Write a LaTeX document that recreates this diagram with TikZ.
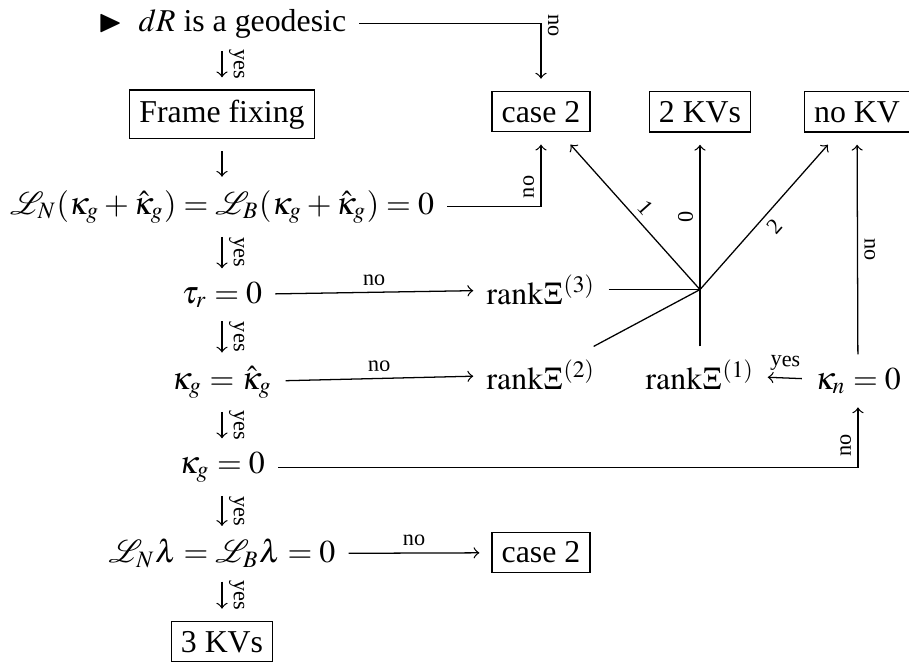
\documentclass[tikz,border=0pt]{standalone}
\usepackage{amssymb}
\usepackage{mathptmx}
\usepackage{mathrsfs}
\usepackage[no-math]{fontspec}
\setmainfont{Liberation Serif}

\tikzset{
  txt/.style={inner sep=4pt, anchor=base},
  kvbox/.style={draw, inner sep=3pt, outer sep=4pt, anchor=base},
  lbl/.style={font=\scriptsize, sloped, inner sep=2pt},
}

\begin{document}
\begin{tikzpicture}[x=0.3142pt, y=-0.3142pt]
\useasboundingbox (0,0) rectangle (909,662);

% main column
\node[txt] (geo) at (222,31) {$\blacktriangleright$\hspace{5pt}$dR$ is a geodesic};
\node[kvbox] (ff) at (222,122) {Frame fixing};
\node[txt] (LN) at (222,214) {$\mathscr{L}_N(\kappa_g+\hat\kappa_g)=\mathscr{L}_B(\kappa_g+\hat\kappa_g)=0$};
\node[txt] (tau) at (222,303) {$\tau_r=0$};
\node[txt] (kk) at (222,389) {$\kappa_g=\hat\kappa_g$};
\node[txt] (kg0) at (222,473) {$\kappa_g=0$};
\node[txt] (LNl) at (222,563) {$\mathscr{L}_N\lambda=\mathscr{L}_B\lambda=0$};
\node[kvbox] (kv3) at (222,652) {3 KVs};

% outcomes and ranks
\node[kvbox] (c2a) at (541,122) {case 2};
\node[kvbox] (kv2) at (700,122) {2 KVs};
\node[kvbox] (nokv) at (857,122) {no KV};
\node[txt] (r3) at (541,304) {$\mathrm{rank}\Xi^{(3)}$};
\node[txt] (r2) at (541,389) {$\mathrm{rank}\Xi^{(2)}$};
\node[txt] (r1) at (700,389) {$\mathrm{rank}\Xi^{(1)}$};
\node[txt] (kn) at (858,389) {$\kappa_n=0$};
\node[kvbox] (c2b) at (541,563) {case 2};
\coordinate (jn) at (r3 -| r1);

% yes branch
\draw[->] (geo) -- node[lbl, above] {yes} (ff);
\draw[->] (ff) -- (LN);
\draw[->] (LN) -- node[lbl, above] {yes} (tau);
\draw[->] (tau) -- node[lbl, above] {yes} (kk);
\draw[->] (kk) -- node[lbl, above] {yes} (kg0);
\draw[->] (kg0) -- node[lbl, above] {yes} (LNl);
\draw[->] (LNl) -- node[lbl, above] {yes} (kv3);

% no branch
\draw[->] (geo) -| node[lbl, above, pos=0.52] {no} (c2a);
\draw[->] (LN) -| node[lbl, above, pos=0.66] {no} (c2a);
\draw[->] (tau) -- node[lbl, above] {no} (r3);
\draw[->] (kk) -- node[lbl, above] {no} (r2);
\draw[->] (kg0) -| node[lbl, above, pos=0.68] {no} (kn);
\draw[->] (LNl) -- node[lbl, above] {no} (c2b);
\draw[->] (kn) -- node[lbl, above] {yes} (r1);
\draw[->] (kn) -- node[lbl, above] {no} (nokv);

% rank junction
\draw (r3) -- (jn);
\draw (r2) -- (jn);
\draw (r1) -- (jn);
\draw[->] (jn) -- node[lbl, above] {1} (c2a);
\draw[->] (jn) -- node[lbl, above] {0} (kv2);
\draw[->] (jn) -- node[lbl, below] {2} (nokv);
\end{tikzpicture}
\end{document}
